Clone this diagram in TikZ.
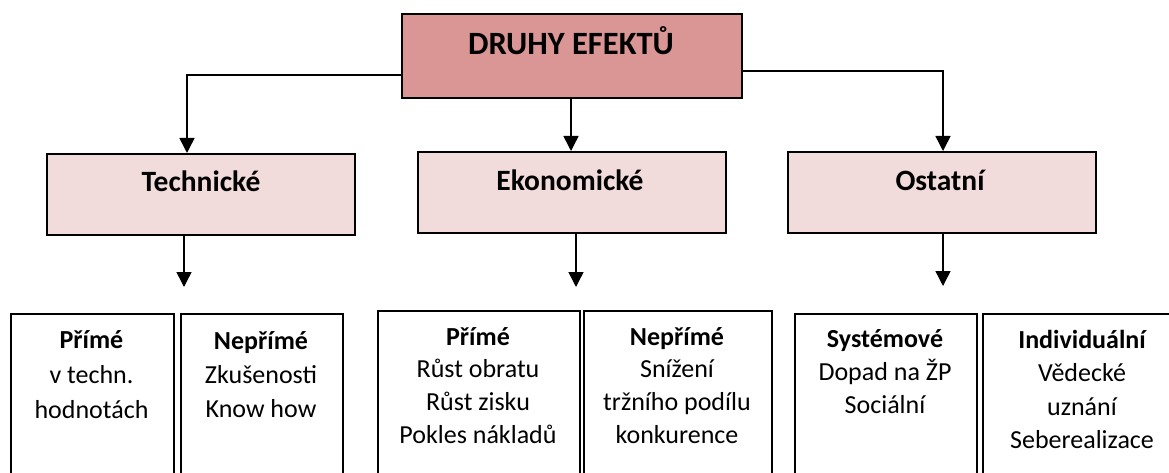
\documentclass[tikz,border=0pt]{standalone}
\usepackage{fontspec}
\setmainfont{Carlito}
\usetikzlibrary{arrows.meta}
\definecolor{rootfill}{HTML}{DA9694}
\definecolor{catfill}{HTML}{F2DCDB}
\begin{document}
\begin{tikzpicture}[x=1pt,y=-1pt,
  box/.style={draw=black, line width=1.9pt, inner sep=0pt, anchor=north west},
  rootbox/.style={box, fill=rootfill},
  catbox/.style={box, fill=catfill, minimum width=308pt, minimum height=81pt},
  leafbox/.style={box, fill=white, minimum height=200pt},
  boxtitle/.style={font=\fontsize{29.5}{34}\selectfont\bfseries, anchor=base, inner sep=0pt},
  leaftext/.style={font=\fontsize{26}{34}\selectfont, align=center, anchor=north, inner sep=0pt},
  arr/.style={line width=1.5pt, -{Triangle[width=15pt,length=15pt]}}]
\useasboundingbox (0,0) rectangle (1169,473);
\clip (0,0) rectangle (1169,473);

% root
\node[rootbox, minimum width=340pt, minimum height=84pt] (root) at (401,13) {};
\node[boxtitle, font=\fontsize{32.5}{36}\selectfont\bfseries] (rootlbl) at (571,55) {DRUHY EFEKTŮ};

% categories
\node[catbox] (tech) at (46,153) {};
\node[catbox] (eko) at (417,151) {};
\node[catbox] (ost) at (787,151) {};
\node[boxtitle] (techlbl) at (201,192) {Technické};
\node[boxtitle] (ekolbl) at (570,190) {Ekonomické};
\node[boxtitle] (ostlbl) at (940,190) {Ostatní};

% connector positions
\coordinate (yl) at (0,75);
\coordinate (yr) at (0,71);
\coordinate (xl) at (187,0);
\coordinate (xm) at (571,0);
\coordinate (xr) at (943,0);
\draw[arr] (root.west |- yl) -| (tech.north -| xl);
\draw[arr] (root.south -| xm) -- (eko.north -| xm);
\draw[arr] (root.east |- yr) -| (ost.north -| xr);

% arrows below the categories
\coordinate (tA) at (184,287);
\coordinate (eA) at (576,287);
\coordinate (oA) at (943,286);
\draw[arr] (tech.south -| tA) -- (tA);
\draw[arr] (eko.south -| eA) -- (eA);
\draw[arr] (ost.south -| oA) -- (oA);

% leaf boxes
\node[leafbox, minimum width=163pt] (t1) at (10,313) {};
\node[leafbox, minimum width=162pt] (t2) at (180,313) {};
\node[leafbox, minimum width=202pt] (e1) at (377,310) {};
\node[leafbox, minimum width=188pt] (e2) at (583,310) {};
\node[leafbox, minimum width=182pt] (o1) at (794,313) {};
\node[leafbox, minimum width=200pt] (o2) at (982,313) {};

\node[leaftext, font=\fontsize{26}{35}\selectfont] (t1t) at (91.5,330) {{\bfseries Přímé}\\v techn.\\hodnotách};
\node[leaftext, font=\fontsize{26}{34}\selectfont] (t2t) at (261,331) {{\bfseries Nepřímé}\\Zkušenosti\\Know how};
\node[leaftext, font=\fontsize{26}{32.7}\selectfont] (e1t) at (478,327) {{\bfseries Přímé}\\Růst obratu\\Růst zisku\\Pokles nákladů};
\node[leaftext, font=\fontsize{26}{32.7}\selectfont] (e2t) at (677,327) {{\bfseries Nepřímé}\\Snížení\\tržního podílu\\konkurence};
\node[leaftext, font=\fontsize{26}{33}\selectfont] (o1t) at (885,329) {{\bfseries Systémové}\\Dopad na ŽP\\Sociální};
\node[leaftext, font=\fontsize{26}{33.5}\selectfont] (o2t) at (1082,330) {{\bfseries Individuální}\\Vědecké\\uznání\\Seberealizace};
\end{tikzpicture}
\end{document}
